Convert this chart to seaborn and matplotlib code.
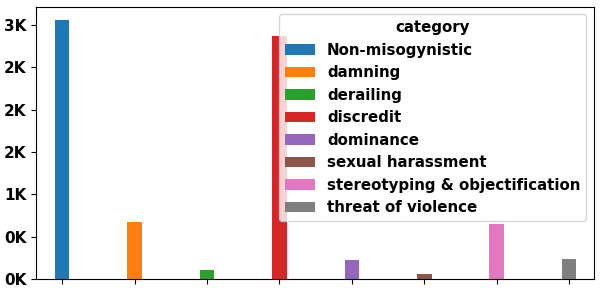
import pandas as pd
import matplotlib
matplotlib.use("Agg")
import matplotlib.pyplot as plt
import seaborn as sns
from matplotlib.ticker import FuncFormatter

# 카테고리별 개수
categories = ["Non-misogynistic", "damning", "derailing", "discredit",
              "dominance", "sexual harassment",
              "stereotyping & objectification", "threat of violence"]
counts = [3058, 674, 106, 2872, 225, 59, 650, 236]

df = pd.DataFrame({"category": categories, "count": counts})

plt.rcParams["font.family"] = ["DejaVu Sans"]
plt.rcParams["font.weight"] = "bold"

fig, ax = plt.subplots(figsize=(6.01, 2.88), dpi=100)
sns.barplot(data=df, x="category", y="count", hue="category",
            palette="tab10", saturation=1, width=0.2, dodge=False,
            legend=True, ax=ax)

ax.set_xlim(-0.36, 7.34)
ax.set_xticks(range(len(categories)))
ax.set_xticklabels([])
ax.set_xlabel("")
ax.set_ylabel("")
ax.yaxis.set_major_formatter(FuncFormatter(lambda v, p: f"{v / 1000:.0f}K"))
ax.tick_params(axis="y", labelsize=11)

# 범례: 제목 굵게, 오른쪽 위
leg = ax.legend(title="category", loc="upper right", fontsize=10.8,
                title_fontproperties={"weight": "bold", "size": 10.8})

plt.subplots_adjust(left=0.06, right=0.988, top=0.976, bottom=0.031)
plt.savefig("out.png", dpi=100)
